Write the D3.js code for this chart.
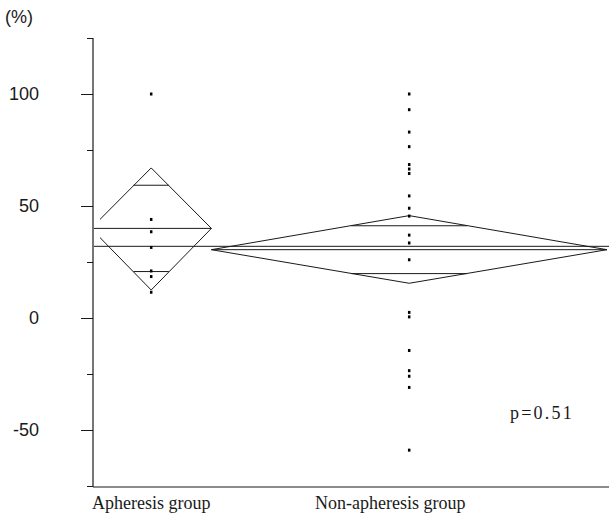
<!DOCTYPE html>
<html>
<head>
<meta charset="utf-8">
<script src="https://cdn.jsdelivr.net/npm/d3@7"></script>
<style>
  body { margin: 0; background: #fff; }
  svg { display: block; }
</style>
</head>
<body>
<svg width="609" height="514"></svg>
<script>
// groups and their summary values
const groups = ["Apheresis group", "Non-apheresis group"]
const groupN = [7, 23]
const groupMean = [40, 30.5]
const ciLower = [12.5, 15.5]
const ciUpper = [67, 45.7]
const grandMean = 32

// individual observations
const apheresisValues = [100, 44, 38.5, 31.5, 21, 18.5, 11.5]
const nonApheresisValues = [100, 93, 83, 76.5, 68.5, 66.5, 64.5, 54.5, 49, 45.5, 37, 33.5, 26,
                            2.5, 0.5, -14.5, -23.5, -26, -31, -59]

const majorTicks = [-50, 0, 50, 100]
const minorTicks = [-75, -25, 25, 75, 125]
const pLabel = "p=0.51"

const svg = d3.select("svg")
const ink = "#1a1a1a"

let axisLeft = 93, axisBottom = 487

const y = d3.scaleLinear().domain([-75, 125]).range([486, 38])

// x runs over cumulative sample size, so each diamond is as wide as its n
const totalN = d3.sum(groupN)
const x = d3.scaleLinear().domain([0, totalN]).range([91, 607])
const starts = groupN.map((n, i) => d3.sum(groupN.slice(0, i)))
const centers = groupN.map((n, i) => starts[i] + n / 2)

// y axis: long labelled ticks plus short unlabelled ones
svg.append("g")
    .attr("transform", `translate(${axisLeft},0)`)
    .call(d3.axisLeft(y).tickValues(majorTicks).tickSize(12).tickPadding(42)
        .tickFormat(d => String(d)).tickSizeOuter(0))
    .call(g => g.select(".domain").remove())
    .call(g => g.selectAll("line").attr("stroke", ink))
    .call(g => g.selectAll("text")
        .attr("fill", ink)
        .attr("font-family", "Liberation Sans, Arial, sans-serif")
        .attr("font-size", "18px"))

svg.append("g")
    .attr("transform", `translate(${axisLeft},0)`)
    .call(d3.axisLeft(y).tickValues(minorTicks).tickSize(6).tickFormat("").tickSizeOuter(0))
    .call(g => g.select(".domain").remove())
    .call(g => g.selectAll("line").attr("stroke", ink))

svg.append("line")
    .attr("x1", axisLeft).attr("x2", axisLeft)
    .attr("y1", y(125)).attr("y2", axisBottom)
    .attr("stroke", ink).attr("stroke-width", 1.2)

svg.append("line")
    .attr("x1", axisLeft).attr("x2", 609)
    .attr("y1", axisBottom).attr("y2", axisBottom)
    .attr("stroke", ink).attr("stroke-width", 1.2)

svg.append("text")
    .attr("x", 5).attr("y", 23)
    .attr("font-family", "Liberation Sans, Arial, sans-serif")
    .attr("font-size", "18px")
    .attr("fill", ink)
    .text("(%)")

// diamonds get clipped a little right of the axis
svg.append("clipPath").attr("id", "plotClip")
  .append("rect")
    .attr("x", 100).attr("y", 0).attr("width", 509).attr("height", axisBottom)

const plot = svg.append("g")

// grand mean across both groups
plot.append("line")
    .attr("x1", axisLeft + 1).attr("x2", 609)
    .attr("y1", y(grandMean)).attr("y2", y(grandMean))
    .attr("stroke", ink)

groups.forEach(function(name, i) {
    const cx = x(centers[i])
    const left = x(starts[i]), right = x(starts[i] + groupN[i])
    const m = groupMean[i]
    const top = ciUpper[i], bot = ciLower[i]

    plot.append("path")
        .attr("clip-path", "url(#plotClip)")
        .attr("d", d3.line()([[left, y(m)], [cx, y(top)], [right, y(m)], [cx, y(bot)], [left, y(m)]]))
        .attr("fill", "none")
        .attr("stroke", ink)

    // group mean line
    plot.append("line")
        .attr("x1", Math.max(left, axisLeft + 1)).attr("x2", right)
        .attr("y1", y(m)).attr("y2", y(m))
        .attr("stroke", ink)

    // overlap marks
    const half = (top - bot) / 2 / Math.SQRT2
    const frac = 1 - 1 / Math.SQRT2
    ;[m + half, m - half].forEach(function(v) {
        plot.append("line")
            .attr("x1", cx - (cx - left) * frac).attr("x2", cx + (right - cx) * frac)
            .attr("y1", y(v)).attr("y2", y(v))
            .attr("stroke", ink)
    })
})

// observations
const values = [apheresisValues, nonApheresisValues]
values.forEach(function(vals, i) {
    plot.selectAll(null)
        .data(vals)
        .enter().append("rect")
        .attr("x", x(centers[i]) - 1.25)
        .attr("y", d => y(d) - 1.5)
        .attr("width", 2.5)
        .attr("height", 3)
        .attr("fill", "#000")
})

// category labels under the x axis
const labelShift = [0, -19]
svg.selectAll(".cat")
    .data(groups)
    .enter().append("text")
    .attr("class", "cat")
    .attr("x", (d, i) => x(centers[i]) + labelShift[i])
    .attr("y", 509)
    .attr("text-anchor", "middle")
    .attr("font-family", "Liberation Serif, Times New Roman, serif")
    .attr("font-size", "18px")
    .attr("fill", ink)
    .text(d => d)

svg.append("text")
    .attr("x", 510).attr("y", 419)
    .attr("font-family", "Liberation Serif, Times New Roman, serif")
    .attr("font-size", "18px")
    .attr("letter-spacing", "2.2px")
    .attr("fill", ink)
    .text(pLabel)
</script>
</body>
</html>
